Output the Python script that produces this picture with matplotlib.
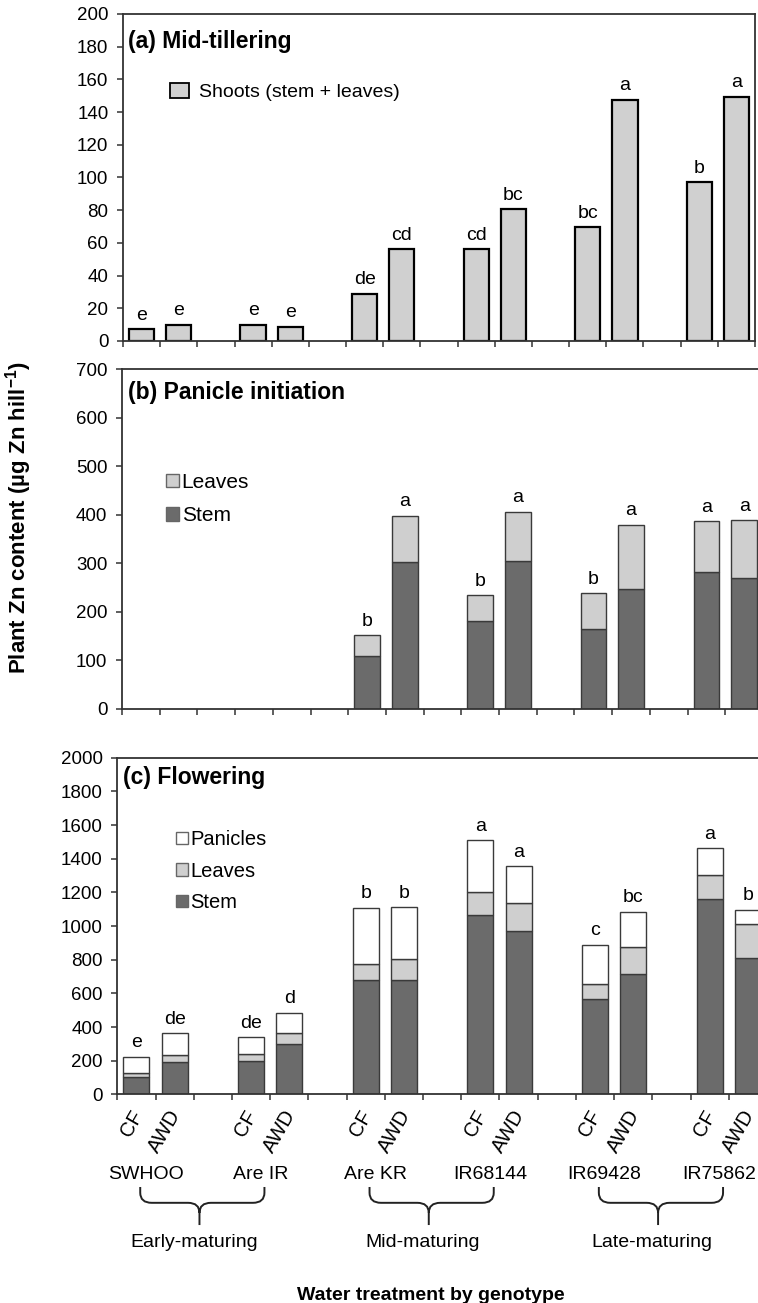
import numpy as np
import matplotlib.pyplot as plt
import matplotlib.transforms as mtransforms
from matplotlib.patches import Patch, PathPatch
from matplotlib.path import Path

plt.rcParams['font.family'] = ['Liberation Sans', 'DejaVu Sans']
plt.rcParams['mathtext.fontset'] = 'custom'
plt.rcParams['mathtext.rm'] = 'Liberation Sans'
plt.rcParams['mathtext.bf'] = 'Liberation Sans:bold'

genotypes = ['SWHOO', 'Are IR', 'Are KR', 'IR68144', 'IR69428', 'IR75862']
treatments = ['CF', 'AWD']
groups = ['Early-maturing', 'Mid-maturing', 'Late-maturing']

# (a) mid-tillering: shoots, order = genotype x (CF, AWD)
shoots_a = [7.3, 9.8, 9.8, 8.8, 29, 56, 56, 80.5, 69.5, 147.5, 97, 149.5]
letters_a = ['e', 'e', 'e', 'e', 'de', 'cd', 'cd', 'bc', 'bc', 'a', 'b', 'a']

# (b) panicle initiation (no data for SWHOO, Are IR)
stem_b = [np.nan, np.nan, np.nan, np.nan, 109, 302, 181, 304, 165, 248, 282, 270]
leaves_b = [np.nan, np.nan, np.nan, np.nan, 43, 96, 53, 102, 73, 132, 105, 119]
letters_b = ['', '', '', '', 'b', 'a', 'b', 'a', 'b', 'a', 'a', 'a']

# (c) flowering
stem_c = [101, 192, 196, 302, 677, 677, 1068, 973, 569, 717, 1159, 809]
leaves_c = [29, 43, 45, 60, 95, 125, 134, 162, 89, 156, 144, 206]
panicles_c = [92, 128, 97, 124, 336, 309, 308, 219, 232, 211, 158, 83]
letters_c = ['e', 'de', 'de', 'd', 'b', 'b', 'a', 'a', 'c', 'bc', 'a', 'b']

c_leaves = '#cfcfcf'
c_stem = '#6b6b6b'
c_pan = 'white'
c_edge = '#3a3a3a'

# bar slots: each genotype takes 3 slots (CF, AWD, gap); 17 slots in total
nslot = 17
pos = np.array([3 * g + t + 0.5 for g in range(len(genotypes)) for t in range(2)])
width = 0.68

fig = plt.figure(figsize=(7.58, 13.03), dpi=100)
W, H = 758.0, 1303.0


def add_ax(left, top, right, bottom):
    return fig.add_axes([left / W, 1 - bottom / H, (right - left) / W, (bottom - top) / H])


ax_a = add_ax(123, 14, 755, 341)
ax_b = add_ax(122, 369.3, 763, 708.8)
ax_c = add_ax(117.3, 757.7, 767, 1094.4)


def style(ax, ymax, step):
    ax.set_xlim(0, nslot)
    ax.set_ylim(0, ymax)
    ax.set_yticks(np.arange(0, ymax + 1, step))
    ax.set_xticks(np.arange(0, nslot + 1))
    ax.set_xticklabels([])
    for s in ax.spines.values():
        s.set_color('#333333')
        s.set_linewidth(1.3)
    ax.tick_params(axis='both', direction='out', length=4.5, width=1.1, color='#333333',
                   labelsize=13.5, pad=6)
    ax.tick_params(axis='x', which='minor', length=0)


def letters(ax, x, tops, labs):
    for xi, yi, lab in zip(x, tops, labs):
        if lab and not np.isnan(yi):
            ax.annotate(lab, (xi, yi), xytext=(0, 4), textcoords='offset points',
                        ha='center', va='bottom', fontsize=14, annotation_clip=False)


# (a)
style(ax_a, 200, 20)
ax_a.bar(pos, shoots_a, width, color='#d0d0d0', edgecolor='black', linewidth=1.6)
letters(ax_a, pos, shoots_a, letters_a)
ax_a.text(0.008, 0.915, '(a) Mid-tillering', transform=ax_a.transAxes, fontsize=16.5,
          fontweight='bold', va='center', ha='left')
ax_a.legend(handles=[Patch(facecolor='#d0d0d0', edgecolor='black', linewidth=1.3,
                           label='Shoots (stem + leaves)')],
            loc='upper left', bbox_to_anchor=(0.074, 0.79), frameon=False, fontsize=14,
            handlelength=1.0, handleheight=0.8, handletextpad=0.5, borderpad=0, borderaxespad=0)

# (b)
style(ax_b, 700, 100)
ax_b.spines['right'].set_visible(False)
sb = np.array(stem_b)
lb = np.array(leaves_b)
ax_b.bar(pos, sb, width, color=c_stem, edgecolor=c_edge, linewidth=1.0)
ax_b.bar(pos, lb, width, bottom=sb, color=c_leaves, edgecolor=c_edge, linewidth=1.0)
letters(ax_b, pos, sb + lb, letters_b)
ax_b.text(0.009, 0.933, '(b) Panicle initiation', transform=ax_b.transAxes, fontsize=16.5,
          fontweight='bold', va='center', ha='left')
ax_b.legend(handles=[Patch(facecolor=c_leaves, edgecolor='#666666', label='Leaves'),
                     Patch(facecolor=c_stem, edgecolor='#666666', label='Stem')],
            loc='upper left', bbox_to_anchor=(0.068, 0.695), frameon=False, fontsize=15,
            handlelength=0.65, handleheight=0.65, handletextpad=0.12, labelspacing=0.7,
            borderpad=0, borderaxespad=0)

# (c)
style(ax_c, 2000, 200)
ax_c.spines['right'].set_visible(False)
sc = np.array(stem_c)
lc = np.array(leaves_c)
pc = np.array(panicles_c)
ax_c.bar(pos, sc, width, color=c_stem, edgecolor=c_edge, linewidth=1.0)
ax_c.bar(pos, lc, width, bottom=sc, color=c_leaves, edgecolor=c_edge, linewidth=1.0)
ax_c.bar(pos, pc, width, bottom=sc + lc, color=c_pan, edgecolor=c_edge, linewidth=1.0)
letters(ax_c, pos, sc + lc + pc, letters_c)
ax_c.text(0.009, 0.94, '(c) Flowering', transform=ax_c.transAxes, fontsize=16.5,
          fontweight='bold', va='center', ha='left')
ax_c.legend(handles=[Patch(facecolor=c_pan, edgecolor='#666666', label='Panicles'),
                     Patch(facecolor=c_leaves, edgecolor='#666666', label='Leaves'),
                     Patch(facecolor=c_stem, edgecolor='#666666', label='Stem')],
            loc='upper left', bbox_to_anchor=(0.09, 0.785), frameon=False, fontsize=14.5,
            handlelength=0.6, handleheight=0.6, handletextpad=0.12, labelspacing=0.62,
            borderpad=0, borderaxespad=0)

# treatment labels under panel (c)
ax_c.set_xticks(pos, treatments * len(genotypes), minor=True)
ax_c.tick_params(axis='x', which='minor', pad=9, labelsize=14.5)
shift = mtransforms.ScaledTranslation(-4.5 / 72, 0, fig.dpi_scale_trans)
for lab in ax_c.get_xticklabels(minor=True):
    lab.set_rotation(60)
    lab.set_ha('right')
    lab.set_va('top')
    lab.set_rotation_mode('anchor')
    lab.set_transform(lab.get_transform() + shift)

# genotype names, braces and group names
tr = mtransforms.blended_transform_factory(ax_c.transData, ax_c.transAxes)
for g, name in enumerate(genotypes):
    ax_c.text(3 * g + 1 - 0.25, -0.239, name, transform=tr, ha='center', va='center',
              fontsize=14, clip_on=False)

y_top, y_mid, y_bot = -0.275, -0.322, -0.388
rx, ry = 0.3, 0.03
for k, grp in enumerate(groups):
    start = 6 * k
    x0, x1, xm = start + 0.6, start + 3.85, start + 2.15
    verts = [(x0, y_top), (x0, y_mid + ry), (x0, y_mid), (x0 + rx, y_mid),
             (xm - rx, y_mid), (xm, y_mid), (xm, y_mid - ry), (xm, y_bot),
             (x1, y_top), (x1, y_mid + ry), (x1, y_mid), (x1 - rx, y_mid),
             (xm + rx, y_mid), (xm, y_mid), (xm, y_mid - ry)]
    codes = [Path.MOVETO, Path.LINETO, Path.CURVE3, Path.CURVE3,
             Path.LINETO, Path.CURVE3, Path.CURVE3, Path.LINETO,
             Path.MOVETO, Path.LINETO, Path.CURVE3, Path.CURVE3,
             Path.LINETO, Path.CURVE3, Path.CURVE3]
    ax_c.add_patch(PathPatch(Path(verts, codes), transform=tr, facecolor='none',
                             edgecolor='#222222', linewidth=1.4, clip_on=False))
    ax_c.text(start + 2, -0.439, grp, transform=tr, ha='center', va='center',
              fontsize=14, clip_on=False)

fig.text(431 / W, 1 - 1295 / H, 'Water treatment by genotype', ha='center', va='center',
         fontsize=14, fontweight='bold')
fig.text(19 / W, 1 - 518 / H, r'Plant Zn content (µg Zn hill$^{\mathbf{-1}}$)', rotation=90,
         ha='center', va='center', fontsize=16, fontweight='bold')

fig.savefig('out.png', dpi=100)
